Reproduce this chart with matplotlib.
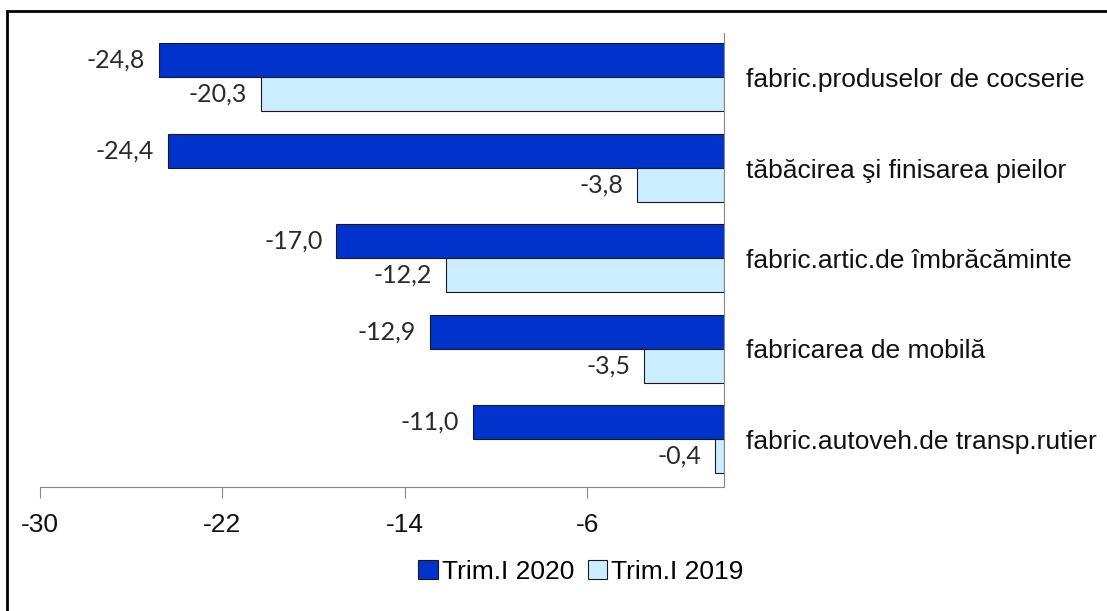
import matplotlib
matplotlib.use("Agg")
import matplotlib.pyplot as plt
from matplotlib.patches import Rectangle
import numpy as np

categories = ["fabric.produselor de cocserie", "tăbăcirea şi finisarea pieilor",
              "fabric.artic.de îmbrăcăminte", "fabricarea de mobilă",
              "fabric.autoveh.de transp.rutier"]
series_names = ["Trim.I 2020", "Trim.I 2019"]
values_2020 = [-24.8, -24.4, -17.0, -12.9, -11.0]
values_2019 = [-20.3, -3.8, -12.2, -3.5, -0.4]
xticks = [-30, -22, -14, -6]

plt.rcParams['font.family'] = ['Liberation Sans', 'DejaVu Sans']

fig = plt.figure(figsize=(11.07, 6.11), dpi=100)
ax = fig.add_axes([40/1107, 1-487/611, (724-40)/1107, (487-33)/611])

y = np.arange(len(categories))
h = 0.375
b1 = ax.barh(y - h/2, values_2020, height=h, color="#0033CC", edgecolor="#1a1a1a", linewidth=0.8, label=series_names[0])
b2 = ax.barh(y + h/2, values_2019, height=h, color="#CCECFF", edgecolor="#1a1a1a", linewidth=0.8, label=series_names[1])

def fmt(v):
    return f"{v:.1f}".replace(".", ",")

for bars, vals in ((b1, values_2020), (b2, values_2019)):
    ax.bar_label(bars, labels=[fmt(v) for v in vals], padding=10,
                 fontsize=18, family=['Lato', 'DejaVu Sans'], color="#2a2a2a")

for yi, cat in zip(y, categories):
    ax.annotate(cat, xy=(0, yi), xytext=(16, -2), textcoords='offset points',
                va='center', ha='left', fontsize=19, color="#111111",
                annotation_clip=False)

ax.set_xlim(-30, 0)
ax.set_ylim(4.53, -0.49)
ax.set_xticks(xticks)
ax.set_xticklabels([str(t) for t in xticks])
ax.set_yticks([])
for s in ("left", "top"):
    ax.spines[s].set_visible(False)
ax.spines["bottom"].set_color("#888888")
ax.spines["right"].set_color("#888888")
ax.tick_params(axis='x', direction='out', length=8, color="#888888",
               labelsize=19, pad=11, labelcolor="#111111")

leg = fig.legend(handles=[b1, b2], labels=series_names, loc='center',
                 bbox_to_anchor=(581/1107, 1-572/611), ncol=2, frameon=False,
                 fontsize=19, handlelength=0.75, handleheight=0.75,
                 handletextpad=0.15, columnspacing=0.5, borderaxespad=0)

fig.add_artist(Rectangle((7/1107, -0.1), 1.2, 1.1 - 11/611, transform=fig.transFigure,
                         fill=False, edgecolor="black", linewidth=2))

fig.savefig("out.png", dpi=100)
